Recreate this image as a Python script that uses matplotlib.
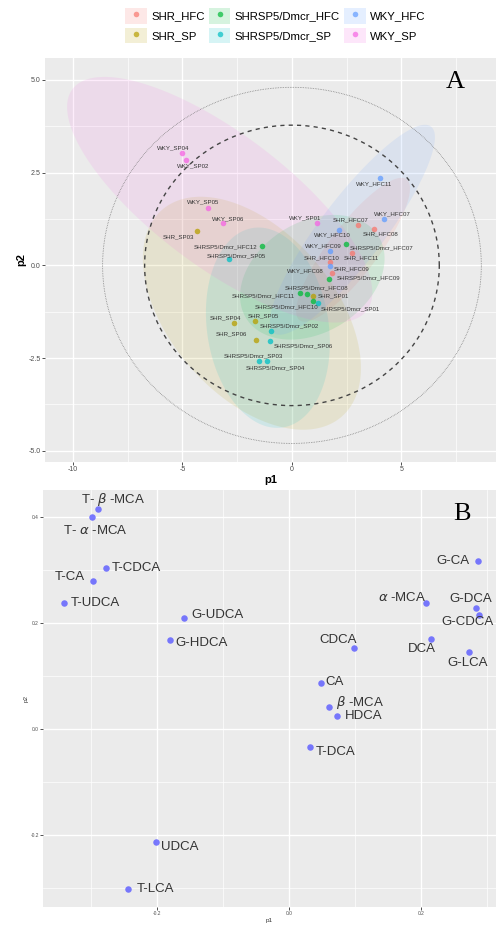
import numpy as np
import matplotlib
matplotlib.use("Agg")
import matplotlib.pyplot as plt
from matplotlib.patches import Patch
from matplotlib.lines import Line2D
from matplotlib.legend_handler import HandlerTuple
from matplotlib.ticker import MultipleLocator, FormatStrFormatter

plt.rcParams['font.family'] = ['Liberation Sans', 'DejaVu Sans']
plt.rcParams['axes.unicode_minus'] = False

# ---- panel A: scores ----
groups = ["SHR_HFC", "SHR_SP", "SHRSP5/Dmcr_HFC", "SHRSP5/Dmcr_SP", "WKY_HFC", "WKY_SP"]
group_colors = ["#F8766D", "#B79F00", "#00BA38", "#00BFC4", "#619CFF", "#F564E3"]

sample_names = [
    "SHR_HFC07", "SHR_HFC08", "SHR_HFC09", "SHR_HFC10", "SHR_HFC11",
    "SHR_SP01", "SHR_SP03", "SHR_SP04", "SHR_SP05", "SHR_SP06",
    "SHRSP5/Dmcr_HFC07", "SHRSP5/Dmcr_HFC08", "SHRSP5/Dmcr_HFC09",
    "SHRSP5/Dmcr_HFC10", "SHRSP5/Dmcr_HFC11", "SHRSP5/Dmcr_HFC12",
    "SHRSP5/Dmcr_SP01", "SHRSP5/Dmcr_SP02", "SHRSP5/Dmcr_SP03",
    "SHRSP5/Dmcr_SP04", "SHRSP5/Dmcr_SP05", "SHRSP5/Dmcr_SP06",
    "WKY_HFC07", "WKY_HFC08", "WKY_HFC09", "WKY_HFC10", "WKY_HFC11",
    "WKY_SP01", "WKY_SP02", "WKY_SP04", "WKY_SP05", "WKY_SP06",
]
sample_group = [0]*5 + [1]*5 + [2]*6 + [3]*6 + [4]*5 + [5]*5
score_p1 = [3.03, 3.76, 1.81, 1.74, 2.72,
            0.97, -4.32, -2.63, -1.69, -1.66,
            2.47, 0.70, 1.70, 0.94, 0.37, -1.38,
            1.20, -0.97, -1.51, -1.13, -2.86, -1.00,
            4.20, 1.74, 1.74, 2.16, 4.02,
            1.13, -4.84, -5.04, -3.85, -3.17]
score_p2 = [1.09, 0.98, -0.21, 0.10, 0.33,
            -0.82, 0.94, -1.54, -1.51, -2.01,
            0.57, -0.77, -0.37, -0.95, -0.75, 0.51,
            -1.02, -1.77, -2.57, -2.57, 0.17, -2.03,
            1.26, -0.01, 0.40, 0.96, 2.35,
            1.15, 2.83, 3.04, 1.54, 1.15]

# group ellipses: centre, half-extent in p1 / p2, correlation
ell_cx = [2.79, -1.83, 0.93, -1.10, 2.76, -3.30]
ell_cy = [0.42, -1.29, -0.32, -1.68, 0.96, 1.77]
ell_sx = [2.60, 4.98, 3.30, 2.83, 3.77, 6.97]
ell_sy = [1.94, 3.14, 1.68, 2.70, 2.83, 3.31]
ell_rho = [0.85, -0.47, 0.30, -0.15, 0.88, -0.755]

# Hotelling ellipses (half-axes in p1 / p2)
t2_dotted = (8.65, 4.80)
t2_dashed = (6.73, 3.78)

# label offsets in pixels (layout only)
label_off = [
    (-8, 5), (6, -5), (20, 4), (-8, 4), (10, -5),
    (20, 0), (-19, -6), (-9, 5), (8, 6), (-24, 6),
    (36, -4), (9, 6), (39, 1), (-26, -6), (-37, -3), (-36, 0),
    (32, -6), (19, 5), (-6, 5), (8, -7), (7, 3), (33, -5),
    (8, 5), (-25, -5), (-7, 5), (-7, -5), (-6, -6),
    (-12, 5), (7, -5), (-8, 5), (-5, 6), (6, 4),
]

# ---- panel B: loadings ----
bile_acids = ["T- $\\beta$ -MCA", "T- $\\alpha$ -MCA", "T-CDCA", "T-CA", "T-UDCA",
              "G-UDCA", "G-HDCA", "G-CA", "$\\alpha$ -MCA", "G-DCA", "G-CDCA",
              "DCA", "G-LCA", "CDCA", "CA", "$\\beta$ -MCA", "HDCA", "T-DCA",
              "UDCA", "T-LCA"]
load_p1 = [-0.289, -0.298, -0.277, -0.297, -0.341, -0.159, -0.181, 0.287, 0.208,
           0.283, 0.288, 0.215, 0.272, 0.099, 0.048, 0.061, 0.073, 0.031,
           -0.202, -0.244]
load_p2 = [0.415, 0.400, 0.304, 0.279, 0.238, 0.211, 0.168, 0.318, 0.238,
           0.228, 0.216, 0.170, 0.146, 0.153, 0.088, 0.043, 0.025, -0.033,
           -0.213, -0.301]
load_off = [(15, 10), (3, -13), (30, 0), (-23, 4), (31, 0), (33, 3), (32, -3),
            (-26, 0), (-24, 6), (-5, 9), (-12, -7), (-9, -10), (-1, -11),
            (-16, 8), (14, 1), (31, 4), (26, 0), (26, -5), (24, -5), (27, 0)]


def gg_axes(ax):
    ax.set_facecolor("#EBEBEB")
    for s in ax.spines.values():
        s.set_visible(False)
    ax.grid(which="major", color="white", lw=1.0)
    ax.grid(which="minor", color="white", lw=0.5)
    ax.set_axisbelow(True)
    ax.tick_params(which="major", length=2, width=0.6, color="#333333",
                   labelcolor="#4D4D4D", pad=1)
    ax.tick_params(which="minor", length=0)


fig = plt.figure(figsize=(4.96, 9.26), dpi=100)

axA = fig.add_axes([45/496, 1-462/926, 451/496, 404/926])
gg_axes(axA)
axA.set_xlim(-11.28, 9.32)
axA.set_ylim(-5.3, 5.59)
axA.xaxis.set_major_locator(MultipleLocator(5))
axA.xaxis.set_minor_locator(MultipleLocator(2.5))
axA.yaxis.set_major_locator(MultipleLocator(2.5))
axA.yaxis.set_minor_locator(MultipleLocator(1.25))
axA.yaxis.set_major_formatter(FormatStrFormatter("%.1f"))
axA.tick_params(labelsize=5)
axA.set_xlabel("p1", fontsize=8, fontweight="bold", labelpad=1)
axA.set_ylabel("p2", fontsize=8, fontweight="bold", labelpad=2)

tt = np.linspace(0, 2*np.pi, 300)
for i in range(len(groups)):
    ex = ell_cx[i] + ell_sx[i]*np.cos(tt)
    ey = ell_cy[i] + ell_sy[i]*(ell_rho[i]*np.cos(tt) + np.sqrt(1-ell_rho[i]**2)*np.sin(tt))
    axA.fill(ex, ey, color=group_colors[i], alpha=0.12, lw=0, zorder=1)

axA.plot(t2_dotted[0]*np.cos(tt), t2_dotted[1]*np.sin(tt), color="#777777",
         ls=(0, (0.8, 1.2)), lw=0.6, zorder=2)
axA.plot(t2_dashed[0]*np.cos(tt), t2_dashed[1]*np.sin(tt), color="#444444",
         ls=(0, (3, 3)), lw=1.0, zorder=2)

for i, name in enumerate(sample_names):
    g = sample_group[i]
    axA.scatter(score_p1[i], score_p2[i], s=16, color=group_colors[g], alpha=0.75,
                lw=0, zorder=3)
    axA.annotate(name, (score_p1[i], score_p2[i]), xytext=label_off[i],
                 textcoords="offset pixels", ha="center", va="center",
                 fontsize=4.4, color="#333333", zorder=4)

handles = [(Patch(facecolor=c, alpha=0.16, edgecolor="none"),
            Line2D([], [], marker="o", ls="", color=c, alpha=0.7, markersize=4, mew=0))
           for c in group_colors]
fig.legend(handles, groups, handler_map={tuple: HandlerTuple(ndivide=1, pad=0)},
           loc="upper left", bbox_to_anchor=(125/496, 1-8/926), ncol=3,
           frameon=False, fontsize=8.2, handlelength=1.9, handleheight=1.75,
           handletextpad=0.4, columnspacing=0.35, labelspacing=0.35, borderpad=0,
           borderaxespad=0)

fig.text(455/496, 1-82/926, "A", fontsize=19, family="Liberation Serif",
         ha="center", va="center")

axB = fig.add_axes([43/496, 1-907/926, 453/496, 417/926])
gg_axes(axB)
axB.set_xlim(-0.373, 0.3136)
axB.set_ylim(-0.335, 0.4515)
axB.xaxis.set_major_locator(MultipleLocator(0.2))
axB.xaxis.set_minor_locator(MultipleLocator(0.1))
axB.yaxis.set_major_locator(MultipleLocator(0.2))
axB.yaxis.set_minor_locator(MultipleLocator(0.1))
axB.xaxis.set_major_formatter(FormatStrFormatter("%.1f"))
axB.yaxis.set_major_formatter(FormatStrFormatter("%.1f"))
axB.tick_params(labelsize=3.5)
axB.set_xlabel("p1", fontsize=4.5, color="#333333", labelpad=1)
axB.set_ylabel("p2", fontsize=4.5, color="#333333", labelpad=1)

axB.scatter(load_p1, load_p2, s=22, color="#6262FF", alpha=0.85, lw=0, zorder=3)
for i, name in enumerate(bile_acids):
    axB.annotate(name, (load_p1[i], load_p2[i]), xytext=load_off[i],
                 textcoords="offset pixels", ha="center", va="center",
                 fontsize=9.5, color="#333333", zorder=4)

fig.text(462/496, 1-514/926, "B", fontsize=19, family="Liberation Serif",
         ha="center", va="center")

fig.savefig("out.png", dpi=100)
